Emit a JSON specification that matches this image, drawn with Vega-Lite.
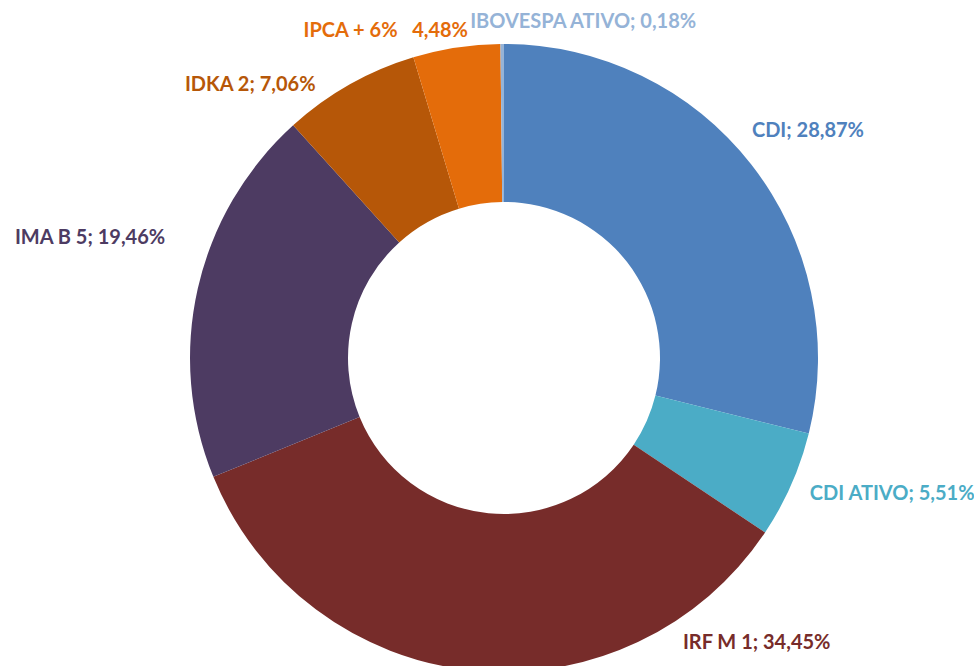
{
  "$schema": "https://vega.github.io/schema/vega-lite/v6.json",
  "width": 940,
  "height": 616,
  "autosize": {"type": "none"},
  "padding": {"left": 34, "top": 50, "right": 0, "bottom": 0},
  "background": "white",
  "config": {"view": {"stroke": null}},
  "data": {
    "values": [
      {"cat": "CDI", "pct": 28.87, "ord": 1, "label": "CDI; 28,87%"},
      {"cat": "CDI ATIVO", "pct": 5.51, "ord": 2, "label": "CDI ATIVO; 5,51%"},
      {"cat": "IRF M 1", "pct": 34.45, "ord": 3, "label": "IRF M 1; 34,45%"},
      {"cat": "IMA B 5", "pct": 19.46, "ord": 4, "label": "IMA B 5; 19,46%"},
      {"cat": "IDKA 2", "pct": 7.06, "ord": 5, "label": "IDKA 2; 7,06%"},
      {"cat": "IPCA + 6%", "pct": 4.48, "ord": 6, "label": "IPCA + 6%\u00a0\u00a0 4,48%"},
      {"cat": "IBOVESPA ATIVO", "pct": 0.18, "ord": 7, "label": "IBOVESPA ATIVO; 0,18%"}
    ]
  },
  "encoding": {
    "theta": {"field": "pct", "type": "quantitative", "stack": true},
    "order": {"field": "ord", "type": "quantitative"},
    "color": {
      "field": "cat",
      "type": "nominal",
      "scale": {
        "domain": ["CDI", "CDI ATIVO", "IRF M 1", "IMA B 5", "IDKA 2", "IPCA + 6%", "IBOVESPA ATIVO"],
        "range": ["#4F81BD", "#4BACC6", "#772C2A", "#4D3B62", "#B65708", "#E46C0A", "#95B3D7"]
      },
      "legend": null
    }
  },
  "layer": [
    {"mark": {"type": "arc", "innerRadius": 156, "outerRadius": 314}},
    {
      "mark": {
        "type": "text",
        "radius": 330,
        "font": "Lato",
        "fontWeight": "bold",
        "fontSize": 20,
        "baseline": "middle",
        "align": {"expr": "(datum.cat === 'IMA B 5' || datum.cat === 'IDKA 2' || datum.cat === 'IPCA + 6%') ? 'right' : 'left'"},
        "dx": {"expr": "datum.cat === 'CDI' ? -12 : datum.cat === 'CDI ATIVO' ? 4 : datum.cat === 'IRF M 1' ? 212 : datum.cat === 'IMA B 5' ? -17 : datum.cat === 'IDKA 2' ? -26 : datum.cat === 'IPCA + 6%' ? 14 : -32"},
        "dy": {"expr": "datum.cat === 'CDI' ? -24 : datum.cat === 'CDI ATIVO' ? 3 : datum.cat === 'IRF M 1' ? -43 : datum.cat === 'IMA B 5' ? -47 : datum.cat === 'IDKA 2' ? 14 : datum.cat === 'IPCA + 6%' ? -1 : -6"}
      },
      "encoding": {"text": {"field": "label"}}
    }
  ]
}
